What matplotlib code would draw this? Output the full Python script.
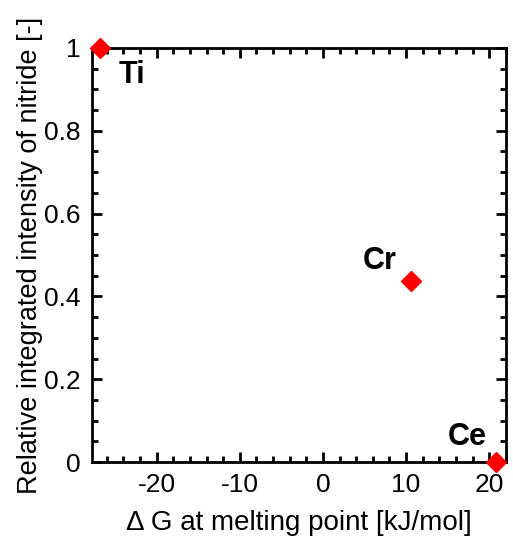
import matplotlib
matplotlib.use("Agg")
import matplotlib.pyplot as plt
from matplotlib.ticker import MultipleLocator

plt.rcParams['font.family'] = ['Liberation Sans', 'DejaVu Sans']
plt.rcParams['axes.unicode_minus'] = False

# data
elements = ["Ti", "Cr", "Ce"]
delta_g = [-26.8, 10.6, 20.8]
intensity = [1.0, 0.438, 0.0]

fig = plt.figure(figsize=(5.13, 5.38), dpi=100)
ax = fig.add_axes([0.179, 0.141, 0.807, 0.770])

ax.plot(delta_g, intensity, linestyle="none", marker="D", color="red",
        markersize=10.5, clip_on=False, zorder=5)

# element labels (pixel centres in the figure)
label_pos = [(132, 75), (380, 261), (467, 437)]
for name, (px, py) in zip(elements, label_pos):
    fig.text(px / 513, 1 - py / 538, name, fontsize=22, fontweight="bold",
             ha="center", va="center")

ax.set_xlim(-27.8, 22.0)
ax.set_ylim(0, 1)
ax.xaxis.set_major_locator(MultipleLocator(10))
ax.xaxis.set_minor_locator(MultipleLocator(2))
ax.yaxis.set_minor_locator(MultipleLocator(0.05))
ax.set_yticks([0, 0.2, 0.4, 0.6, 0.8, 1.0])
ax.set_yticklabels(["0", "0.2", "0.4", "0.6", "0.8", "1"])

ax.tick_params(which="both", direction="in", top=True, right=True,
               labelsize=19, width=2, pad=8)
ax.tick_params(which="major", length=7)
ax.tick_params(which="minor", length=4)
for s in ax.spines.values():
    s.set_linewidth(2)

ax.set_xlabel("\u0394 G at melting point [kJ/mol]", fontsize=20, labelpad=9)
ax.set_ylabel("Relative integrated intensity of nitride [-]", fontsize=19.5, labelpad=1)

fig.savefig("out.png", dpi=100)
